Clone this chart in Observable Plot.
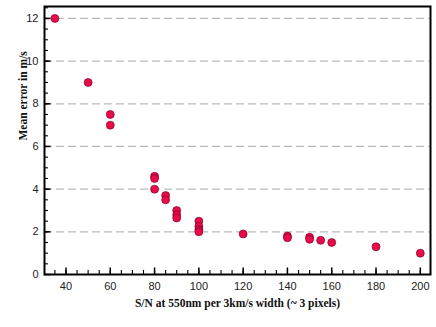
<!DOCTYPE html>
<html>
<head>
<meta charset="utf-8">
<script src="https://cdn.jsdelivr.net/npm/d3@7"></script>
<script src="https://cdn.jsdelivr.net/npm/@observablehq/plot@0.6"></script>
<style>
  html, body { margin: 0; padding: 0; background: #fff; }
</style>
</head>
<body>
<div id="chart"></div>
<script>
const snr = [35, 50, 60, 60, 80, 80, 80, 85, 85, 90, 90, 90, 100, 100, 100, 100, 120, 140, 140, 150, 150, 155, 160, 180, 200];
const meanError = [12.0, 9.0, 7.5, 7.0, 4.6, 4.5, 4.0, 3.7, 3.5, 3.0, 2.8, 2.65, 2.5, 2.25, 2.1, 2.0, 1.9, 1.8, 1.72, 1.75, 1.65, 1.6, 1.5, 1.3, 1.0];
const xMajorTicks = [40, 60, 80, 100, 120, 140, 160, 180, 200];
const xMinorTicks = d3.range(35, 205, 5);
const yMajorTicks = [0, 2, 4, 6, 8, 10, 12];
const yMinorTicks = d3.range(0.5, 12.6, 0.5);
const gridTicks = [2, 4, 6, 8, 10, 12];
const xLabel = "S/N at 550nm per 3km/s width (~ 3 pixels)";
const yLabel = "Mean error in m/s";

const data = snr.map((s, i) => ({snr: s, err: meanError[i]}));

const xDomain = [30.3, 204.6];
const yDomain = [0, 12.56];
const W = 436, H = 327, ML = 44, MT = 6, MR = 6, MB = 53;
const plotW = W - ML - MR, plotH = H - MT - MB;
// convert pixel tick lengths to data units
const xPerPx = (xDomain[1] - xDomain[0]) / plotW;
const yPerPx = (yDomain[1] - yDomain[0]) / plotH;

const chart = Plot.plot({
  width: W,
  height: H,
  marginLeft: ML,
  marginTop: MT,
  marginRight: MR,
  marginBottom: MB,
  style: {fontFamily: "Liberation Sans, Arial, sans-serif", fontSize: "11px", color: "#222", background: "#fff"},
  x: {domain: xDomain},
  y: {domain: yDomain},
  marks: [
    Plot.ruleY(gridTicks, {stroke: "#bbb", strokeWidth: 1.2, strokeDasharray: "8,4"}),
    Plot.ruleX(xMinorTicks, {x: d => d, y1: yDomain[0], y2: yDomain[0] + 4 * yPerPx, stroke: "#000", strokeWidth: 1.1}),
    Plot.ruleX(xMajorTicks, {x: d => d, y1: yDomain[0], y2: yDomain[0] + 6.5 * yPerPx, stroke: "#000", strokeWidth: 1.5}),
    Plot.ruleY(yMinorTicks, {y: d => d, x1: xDomain[0], x2: xDomain[0] + 4 * xPerPx, stroke: "#000", strokeWidth: 1.1}),
    Plot.ruleY(yMajorTicks, {y: d => d, x1: xDomain[0], x2: xDomain[0] + 6.5 * xPerPx, stroke: "#000", strokeWidth: 1.5}),
    Plot.axisX({ticks: xMajorTicks, tickSize: 0, tickPadding: 8, fontSize: 11, label: null}),
    Plot.axisY({ticks: yMajorTicks, tickSize: 0, tickPadding: 6, fontSize: 11, label: null}),
    Plot.frame({stroke: "#000", strokeWidth: 2}),
    Plot.dot(data, {x: "snr", y: "err", r: 4, fill: "#ea0a4a", stroke: "#6a0020", strokeWidth: 0.6}),
    Plot.text([xLabel], {frameAnchor: "bottom", dy: 32, text: d => d, fontFamily: "Liberation Serif, DejaVu Serif, serif", fontWeight: "bold", fontSize: 11.5, fill: "#111"}),
    Plot.text([yLabel], {frameAnchor: "left", dx: -21, rotate: -90, text: d => d, fontFamily: "Liberation Serif, DejaVu Serif, serif", fontWeight: "bold", fontSize: 11.5, fill: "#111"})
  ]
});
document.getElementById("chart").appendChild(chart);
</script>
</body>
</html>
